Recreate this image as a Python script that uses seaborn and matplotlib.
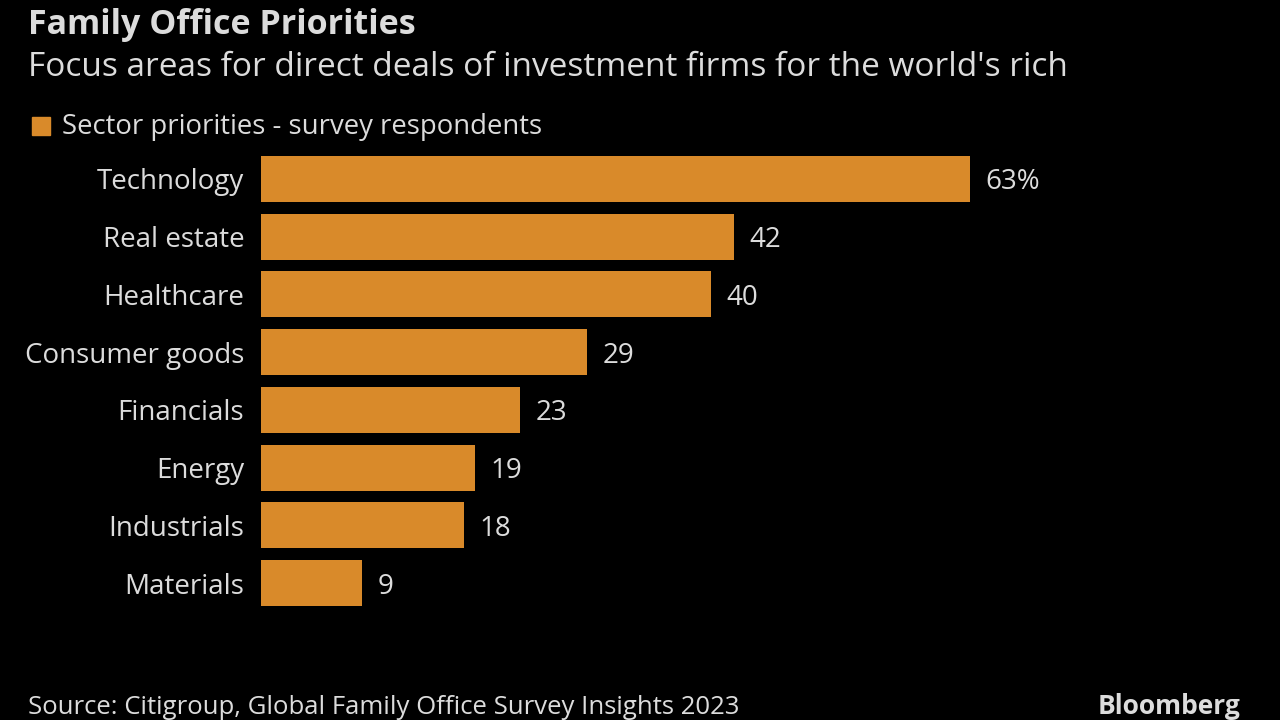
import matplotlib
matplotlib.use("Agg")
import matplotlib.pyplot as plt
import seaborn as sns
import pandas as pd

categories = ["Technology", "Real estate", "Healthcare", "Consumer goods",
              "Financials", "Energy", "Industrials", "Materials"]
values = [63, 42, 40, 29, 23, 19, 18, 9]
value_labels = ["63%", "42", "40", "29", "23", "19", "18", "9"]

title = "Family Office Priorities"
subtitle = "Focus areas for direct deals of investment firms for the world's rich"
legend_label = "Sector priorities - survey respondents"
source = "Source: Citigroup, Global Family Office Survey Insights 2023"

BAR = "#D98A2A"
TXT = "#DCDCDC"
BG = "#000000"

sns.set_theme(style="white")
plt.rcParams["font.family"] = ["Open Sans", "DejaVu Sans"]

df = pd.DataFrame({"cat": categories, "val": values})

fig = plt.figure(figsize=(12.8, 7.2), dpi=100, facecolor=BG)
ax = fig.add_axes([261 / 1280, 1 - 612 / 720, 1 - 261 / 1280, 462 / 720])
ax.set_facecolor(BG)

sns.barplot(data=df, x="val", y="cat", color=BAR, saturation=1, width=0.8,
            ax=ax, orient="h", edgecolor="none", linewidth=0)

ax.set_xlim(0, 1019 / 11.25)
ax.set_ylim(7.5, -0.5)
ax.set_xlabel("")
ax.set_ylabel("")
ax.set_xticks([])
ax.tick_params(axis="y", length=0, pad=12, labelsize=20, labelcolor=TXT)
for s in ax.spines.values():
    s.set_visible(False)

for i, (v, lab) in enumerate(zip(values, value_labels)):
    ax.text(v + 1.4, i, lab, va="center_baseline", ha="left", color=TXT, fontsize=20)

fig.text(28 / 1280, 1 - 25 / 720, title, color=TXT, fontsize=24.5, fontweight="bold",
         va="center", ha="left")
fig.text(28 / 1280, 1 - 68 / 720, subtitle, color=TXT, fontsize=24,
         va="center", ha="left")
fig.patches.append(plt.Rectangle((32 / 1280, 1 - 135 / 720), 18 / 1280, 18 / 720,
                                 transform=fig.transFigure, color=BAR))
fig.text(62 / 1280, 1 - 127 / 720, legend_label, color=TXT, fontsize=19.8,
         va="center", ha="left")
fig.text(28 / 1280, 1 - 707 / 720, source, color=TXT, fontsize=18.5,
         va="center", ha="left")
fig.text(1240 / 1280, 1 - 706 / 720, "Bloomberg", color=TXT, fontsize=19,
         fontweight="bold", va="center", ha="right")

fig.savefig("out.png", dpi=100, facecolor=BG)
